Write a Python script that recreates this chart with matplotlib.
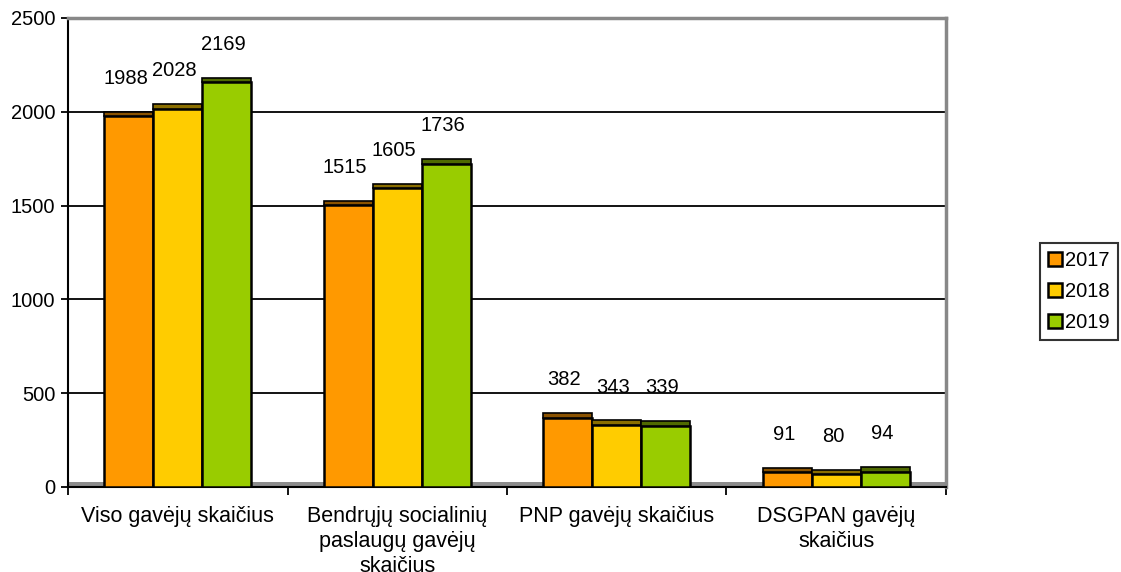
import numpy as np
import matplotlib.pyplot as plt

# ---------------- data ----------------
categories = [
    "Viso gavėjų skaičius",
    "Bendrųjų socialinių\npaslaugų gavėjų\nskaičius",
    "PNP gavėjų skaičius",
    "DSGPAN gavėjų\nskaičius",
]
years = ["2017", "2018", "2019"]
v2017 = [1988, 1515, 382, 91]
v2018 = [2028, 1605, 343, 80]
v2019 = [2169, 1736, 339, 94]

colors = ["#FF9900", "#FFCC00", "#99CC00"]
cap_colors = ["#8A5200", "#8A6E00", "#4F6A00"]

plt.rcParams['font.family'] = ['Liberation Sans', 'DejaVu Sans']
plt.rcParams['font.size'] = 14

fig = plt.figure(figsize=(11.21, 5.72), dpi=100)
ax = fig.add_axes([68 / 1121, 1 - 487 / 572, (946 - 68) / 1121, (487 - 18) / 572])

x = np.arange(len(categories))
width = 0.223
cap = 12

# floor
ax.axhspan(0, 27, color="#8C8C8C", zorder=1, lw=0)

for i, vals in enumerate([v2017, v2018, v2019]):
    xs = x + (i - 1) * width
    ax.bar(xs, np.array(vals) - cap, width, color=colors[i], edgecolor="black",
           linewidth=1.8, zorder=3, label=years[i])
    ax.bar(xs, 2 * cap, width, bottom=np.array(vals) - cap, color=cap_colors[i],
           edgecolor="black", linewidth=1.2, zorder=3)
    for xx, v in zip(xs, vals):
        ax.text(xx - 0.015, v + 190, str(v), ha="center", va="center", fontsize=14.5)

ax.set_xlim(-0.5, len(categories) - 0.5)
ax.set_ylim(0, 2500)
ax.set_yticks([0, 500, 1000, 1500, 2000, 2500])
ax.yaxis.grid(True, color="black", linewidth=1.3, zorder=0)
ax.set_axisbelow(True)

ax.set_xticks(x)
ax.set_xticklabels(categories, fontsize=15.5, linespacing=1.25)
ax.tick_params(axis="x", length=0, pad=14)
ax.set_xticks(np.arange(-0.5, len(categories)), minor=True)
ax.tick_params(axis="x", which="minor", length=6, width=1.3, direction="out")
ax.tick_params(axis="y", length=5, width=1.3, labelsize=14.5, pad=4)

ax.spines["left"].set_linewidth(1.5)
ax.spines["bottom"].set_linewidth(1.5)
ax.spines["top"].set_color("#888888")
ax.spines["right"].set_color("#888888")
ax.spines["top"].set_linewidth(2.5)
ax.spines["right"].set_linewidth(2.5)

handles, labels = ax.get_legend_handles_labels()
leg = fig.legend(handles, labels, loc="center left", bbox_to_anchor=(1030 / 1121, 0.49),
                 frameon=True, fancybox=False, edgecolor="black", fontsize=14.5,
                 handlelength=0.7, handleheight=0.7, handletextpad=0.15,
                 labelspacing=0.6, borderpad=0.4)
leg.get_frame().set_linewidth(1.5)

fig.savefig("out.png", dpi=100)
